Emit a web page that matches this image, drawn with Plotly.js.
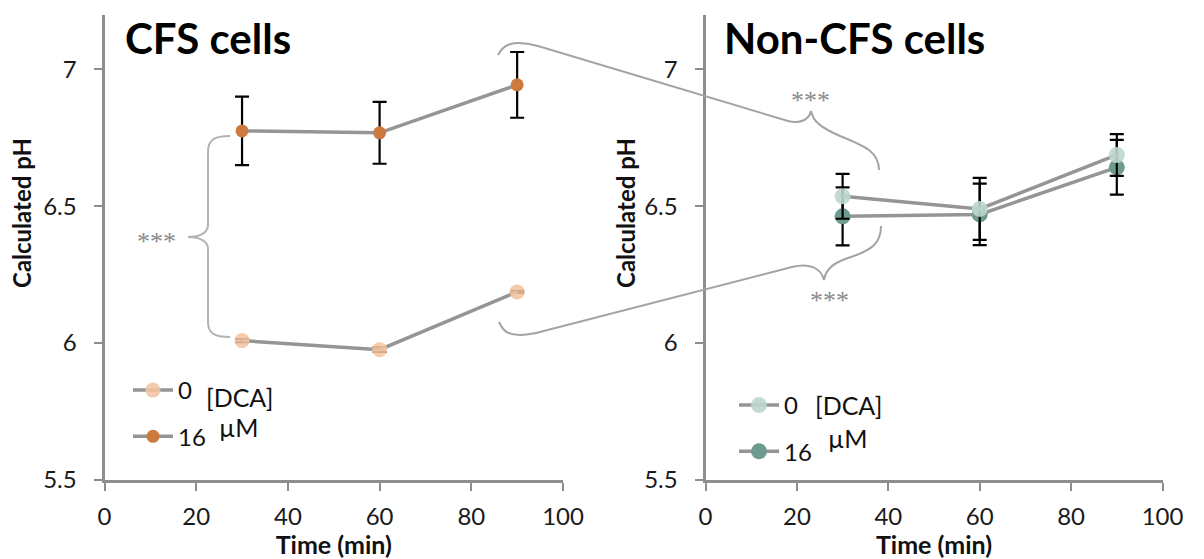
<!DOCTYPE html>
<html>
<head>
<meta charset="utf-8">
<script src="https://cdn.plot.ly/plotly-3.0.1.min.js"></script>
<style>html,body{margin:0;padding:0;background:#fff}</style>
</head>
<body>
<div id="chart" style="width:1204px;height:559px"></div>
<script>
// Calculated intracellular pH over time, with and without 16 µM DCA
const timeMin = [30, 60, 90];

const cfsDca0 = [6.009, 5.976, 6.187];
const cfsDca0Err = [0.006, 0.008, 0.004];
const cfsDca16 = [6.775, 6.768, 6.943];
const cfsDca16Err = [0.125, 0.113, 0.12];

const nonCfsDca0 = [6.536, 6.49, 6.687];
const nonCfsDca0Err = [0.082, 0.113, 0.076];
const nonCfsDca16 = [6.463, 6.47, 6.642];
const nonCfsDca16Err = [0.106, 0.112, 0.1];

const xTicks = [0, 20, 40, 60, 80, 100];
const yTicks = [5.5, 6, 6.5, 7];
const yTickText = ['5.5', '6', '6.5', '7'];
const doseLabels = ['0', '16'];
const panelTitles = ['CFS cells', 'Non-CFS cells'];
const signifLabel = '***';

const W = 1204, H = 559;
const FONT = 'Lato, "Open Sans", sans-serif';
const px = x => x / W;
const py = y => 1 - y / H;
// convert a path written in page pixels into paper coordinates
const pathPx = s => s.replace(/(-?\d+\.?\d*),(-?\d+\.?\d*)/g,
  (m, a, b) => px(+a).toFixed(5) + ',' + py(+b).toFixed(5));

const lineStyle = {color: '#959595', width: 3.5};
const errStyle = (arr) => ({type: 'data', array: arr, visible: true, color: '#000', thickness: 2.2, width: 7});

const traces = [
  {x: timeMin, y: cfsDca0, error_y: errStyle(cfsDca0Err), name: doseLabels[0],
   mode: 'lines+markers', line: lineStyle, marker: {size: 15, color: 'rgba(243,196,160,0.88)'},
   xaxis: 'x', yaxis: 'y', legend: 'legend', legendgroup: 'a0'},
  {x: timeMin, y: cfsDca16, error_y: errStyle(cfsDca16Err), name: doseLabels[1],
   mode: 'lines+markers', line: lineStyle, marker: {size: 13, color: '#cd7a3e'},
   xaxis: 'x', yaxis: 'y', legend: 'legend', legendgroup: 'a16'},
  {x: timeMin, y: nonCfsDca16, error_y: errStyle(nonCfsDca16Err), name: doseLabels[1],
   mode: 'lines+markers', line: lineStyle, marker: {size: 16, color: '#6d9b8f'},
   xaxis: 'x2', yaxis: 'y2', legend: 'legend2', legendgroup: 'b16', legendrank: 2},
  {x: timeMin, y: nonCfsDca0, error_y: errStyle(nonCfsDca0Err), name: doseLabels[0],
   mode: 'lines+markers', line: lineStyle, marker: {size: 16, color: 'rgba(190,215,207,0.9)'},
   xaxis: 'x2', yaxis: 'y2', legend: 'legend2', legendgroup: 'b0', legendrank: 1}
];

const xBase = {
  range: [0, 100], tickvals: xTicks, showline: true, linecolor: '#8e8e8e', linewidth: 3,
  ticks: 'outside', ticklen: 8, tickwidth: 2, tickcolor: '#8e8e8e', showgrid: false, zeroline: false,
  tickfont: {family: FONT, size: 24, color: '#1a1a1a'}, ticklabelstandoff: 5, fixedrange: true,
  title: {text: '<b>Time (min)</b>', font: {family: FONT, size: 25, color: '#111'}, standoff: 0}
};
const yBase = {
  range: [5.5, 7.2], tickvals: yTicks, ticktext: yTickText, showline: true, linecolor: '#8e8e8e', linewidth: 3,
  ticks: 'outside', ticklen: 8, tickwidth: 2, tickcolor: '#8e8e8e', showgrid: false, zeroline: false,
  tickfont: {family: FONT, size: 24, color: '#1a1a1a'}, ticklabelstandoff: 12, fixedrange: true,
  domain: [1 - 480 / H, 1 - 14.5 / H]
};

const legendBase = {
  bgcolor: 'rgba(0,0,0,0)', borderwidth: 0, xanchor: 'left', yanchor: 'top',
  font: {family: FONT, size: 24, color: '#111'}, tracegroupgap: 12, itemwidth: 40
};

const ann = (text, x, y, size, color, extra) => Object.assign({
  text, x: px(x), y: py(y), xref: 'paper', yref: 'paper', showarrow: false,
  font: {family: FONT, size, color}, xanchor: 'center', yanchor: 'middle'
}, extra || {});

const starFont = '"Liberation Serif", "DejaVu Serif", serif';
const star = (x, y) => ann(signifLabel, x, y, 26, '#8a8a8a', {font: {family: starFont, size: 26, color: '#8a8a8a'}});

const layout = {
  width: W, height: H, margin: {l: 0, r: 0, t: 0, b: 0},
  paper_bgcolor: '#fff', plot_bgcolor: 'rgba(0,0,0,0)',
  xaxis: Object.assign({}, xBase, {domain: [px(104.5), px(563)], anchor: 'y'}),
  yaxis: Object.assign({}, yBase, {anchor: 'x'}),
  xaxis2: Object.assign({}, xBase, {domain: [px(705.5), px(1162.5)], anchor: 'y2'}),
  yaxis2: Object.assign({}, yBase, {anchor: 'x2'}),
  legend: Object.assign({}, legendBase, {x: px(128), y: py(368)}),
  legend2: Object.assign({}, legendBase, {x: px(734), y: py(383)}),
  annotations: [
    ann('<b>' + panelTitles[0] + '</b>', 123, 38, 42, '#000', {xanchor: 'left'}),
    ann('<b>' + panelTitles[1] + '</b>', 722, 38, 42, '#000', {xanchor: 'left'}),
    ann('<b>Calculated pH</b>', 22, 213, 24, '#111', {textangle: -90}),
    ann('<b>Calculated pH</b>', 626, 213, 24, '#111', {textangle: -90}),
    ann('[DCA]', 240, 397, 25, '#111'),
    ann('µM', 238, 427, 25, '#111'),
    ann('[DCA]', 849, 405, 25, '#111'),
    ann('µM', 847, 438, 25, '#111'),
    star(156, 242),
    star(810, 101),
    star(829, 300)
  ],
  shapes: [
    // brace between the two CFS curves
    {type: 'path', xref: 'paper', yref: 'paper', line: {color: '#b3b3b3', width: 2},
     path: pathPx('M230,136 C214,136 208,140 208,152 L208,225 C208,232 201,237 188,237 C201,237 208,242 208,249 L208,322 C208,333 214,337 230,337')},
    // CFS 16 µM at 90 min -> Non-CFS cells
    {type: 'path', xref: 'paper', yref: 'paper', line: {color: '#a3a3a3', width: 2},
     path: pathPx('M498,55 C502,47 508,43 518,43 C527,43 531,44 538,46 L788,121 C800,124 809,120 811,111 C813,122 822,128 840,136 C865,146 879,152 879,170')},
    // CFS 0 µM at 90 min -> Non-CFS cells
    {type: 'path', xref: 'paper', yref: 'paper', line: {color: '#a3a3a3', width: 2},
     path: pathPx('M499,322 C503,331 508,335 520,335 C527,335 531,334 536,333 L792,267 C808,263 821,267 824,280 C826,268 835,262 851,257 C872,250 881,243 881,226')}
  ]
};

Plotly.newPlot('chart', traces, layout, {staticPlot: true, displayModeBar: false});
</script>
</body>
</html>
